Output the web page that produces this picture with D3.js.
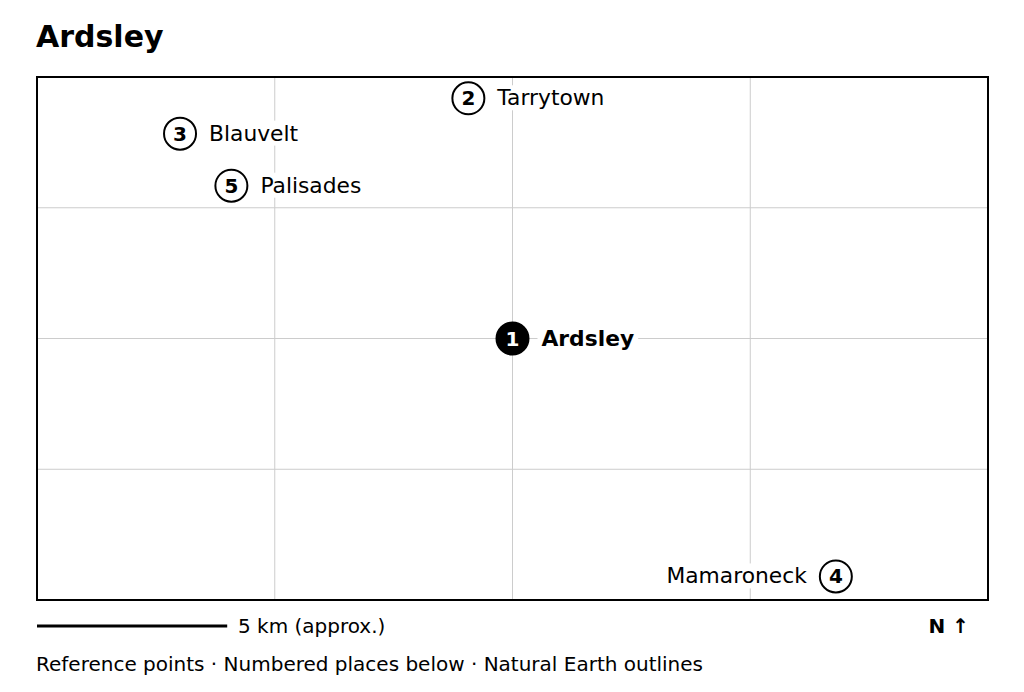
<!DOCTYPE html><html><head><meta charset="utf-8">
<script src="https://cdn.jsdelivr.net/npm/d3@7"></script>
<style>body{margin:0;background:#fff}text{font-family:"DejaVu Sans",sans-serif}</style></head><body>
<svg id="c" width="1024" height="692"></svg>
<script>
const names=["Ardsley","Tarrytown","Blauvelt","Mamaroneck","Palisades"];
const nums=[1,2,3,4,5];
const xKm=[0,-1.16,-8.74,8.5,-7.39];
const yKm=[0,6.32,5.39,-6.26,4.02];
const labelSide=["right","right","right","left","right"];
const gridX=[-6.25,0,6.25], gridY=[-3.44,0,3.44];
const svg=d3.select("#c");
const L=37,R=988,T=77,B=600;
const x=d3.scaleLinear().domain([-12.5,12.5]).range([L,R]);
const y=d3.scaleLinear().domain([-6.88,6.88]).range([B,T]);
svg.append("text").attr("x",36).attr("y",47).attr("font-size",30).attr("font-weight","bold").text("Ardsley");
const g=svg.append("g");
g.selectAll(".gx").data(gridX).join("line").attr("x1",d=>x(d)).attr("x2",d=>x(d)).attr("y1",T).attr("y2",B).attr("stroke","#ccc");
g.selectAll(".gy").data(gridY).join("line").attr("y1",d=>y(d)).attr("y2",d=>y(d)).attr("x1",L).attr("x2",R).attr("stroke","#ccc");
const pts=names.map((n,i)=>({n,num:nums[i],x:xKm[i],y:yKm[i],side:labelSide[i]}));
const pg=g.selectAll(".p").data(pts).join("g").attr("transform",d=>`translate(${x(d.x)},${y(d.y)})`);
pg.each(function(d){
  const s=d3.select(this);
  const t=s.append("text").attr("x",d.side==="right"?29:-29).attr("y",7).attr("font-size",21.8)
    .attr("text-anchor",d.side==="right"?"start":"end").attr("font-weight",d.num===1?"bold":"normal").text(d.n);
  const bb=t.node().getBBox();
  s.insert("rect","text").attr("x",bb.x-4).attr("y",bb.y).attr("width",bb.width+8).attr("height",bb.height).attr("fill","#fff");
  s.append("circle").attr("r",16).attr("fill",d.num===1?"#000":"#fff").attr("stroke","#000").attr("stroke-width",2);
  s.append("text").attr("y",7).attr("text-anchor","middle").attr("font-size",20).attr("font-weight","bold")
    .attr("fill",d.num===1?"#fff":"#000").text(d.num);
});
svg.append("rect").attr("x",L).attr("y",T).attr("width",R-L).attr("height",B-T).attr("fill","none").attr("stroke","#000").attr("stroke-width",2);
svg.append("line").attr("x1",x(-12.5)).attr("x2",x(-7.5)).attr("y1",626).attr("y2",626).attr("stroke","#000").attr("stroke-width",3);
svg.append("text").attr("x",238).attr("y",633).attr("font-size",20).text("5 km (approx.)");
svg.append("text").attr("x",969).attr("y",633).attr("font-size",20).attr("font-weight","bold").attr("text-anchor","end").text("N ↑");
svg.append("text").attr("x",36).attr("y",671).attr("font-size",20).text("Reference points · Numbered places below · Natural Earth outlines");
</script></body></html>
